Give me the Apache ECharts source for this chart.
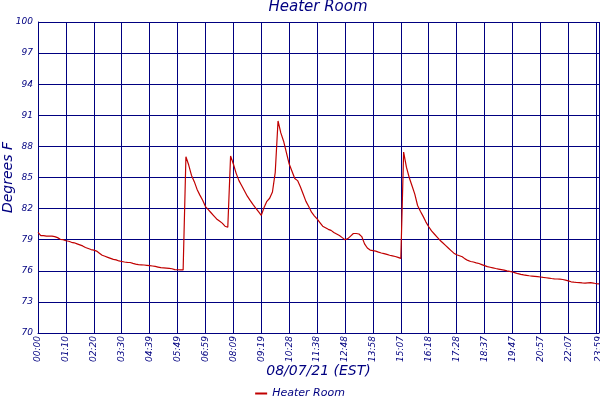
<!DOCTYPE html>
<html>
<head>
<meta charset="utf-8">
<script src="https://cdn.jsdelivr.net/npm/echarts@6/dist/echarts.min.js"></script>
<style>
  html, body { margin: 0; padding: 0; background: #fff; }
  #chart { width: 600px; height: 400px; }
</style>
</head>
<body>
<div id="chart"></div>
<script>
// tick labels on the time axis, one every 10 samples, plus the final one
var tickLabels = ['00:00','01:10','02:20','03:30','04:39','05:49','06:59','08:09','09:19','10:28',
    '11:38','12:48','13:58','15:07','16:18','17:28','18:37','19:47','20:57','22:07','23:16','23:59'];
var stepsPerTick = 10;

// temperature readings (deg F), 10 samples between tick labels
var temps = [
    79.7, 79.4, 79.4, 79.35, 79.35, 79.35, 79.3, 79.2, 79.04, 79.0,
    78.9, 78.85, 78.75, 78.7, 78.6, 78.5, 78.4, 78.25, 78.15, 78.05,
    78.0, 77.9, 77.7, 77.5, 77.4, 77.3, 77.2, 77.1, 77.05, 76.95,
    76.9, 76.85, 76.82, 76.8, 76.72, 76.65, 76.6, 76.58, 76.56, 76.53,
    76.5, 76.46, 76.42, 76.36, 76.3, 76.28, 76.26, 76.24, 76.2, 76.12,
    76.1, 76.08, 76.08, 87.0, 86.2, 85.2, 84.6, 83.85, 83.3, 82.8,
    82.2, 81.9, 81.6, 81.3, 81.0, 80.8, 80.6, 80.3, 80.2, 87.07,
    86.3, 85.4, 84.7, 84.2, 83.7, 83.2, 82.8, 82.4, 82.05, 81.7,
    81.35, 82.1, 82.7, 83.0, 83.6, 85.5, 90.45, 89.3, 88.5, 87.4,
    86.3, 85.6, 84.9, 84.7, 84.1, 83.4, 82.7, 82.2, 81.65, 81.3,
    81.0, 80.65, 80.3, 80.15, 80.0, 79.9, 79.7, 79.55, 79.4, 79.2,
    79.0, 79.1, 79.35, 79.6, 79.6, 79.55, 79.3, 78.6, 78.2, 78.0,
    77.95, 77.9, 77.8, 77.72, 77.65, 77.58, 77.5, 77.44, 77.38, 77.3,
    77.2, 87.45, 86.0, 85.0, 84.2, 83.4, 82.3, 81.75, 81.25, 80.7,
    80.25, 79.85, 79.55, 79.25, 78.95, 78.7, 78.45, 78.2, 77.95, 77.7,
    77.55, 77.45, 77.35, 77.15, 77.0, 76.9, 76.85, 76.77, 76.7, 76.6,
    76.5, 76.4, 76.34, 76.28, 76.22, 76.17, 76.12, 76.07, 76.0, 75.95,
    75.88, 75.8, 75.72, 75.65, 75.6, 75.56, 75.52, 75.49, 75.46, 75.43,
    75.4, 75.36, 75.33, 75.3, 75.26, 75.23, 75.21, 75.19, 75.16, 75.1,
    75.03, 74.94, 74.9, 74.87, 74.85, 74.83, 74.82, 74.84, 74.86, 74.82,
    74.75, 74.73
];

var seriesName = 'Heater Room';
var navy = '#000080';
var lastIdx = temps.length - 1;

var categories = [];
for (var i = 0; i < temps.length; i++) {
    categories.push(String(i));
}

var isTick = function (idx) {
    return idx % stepsPerTick === 0 || idx === lastIdx;
};

var chart = echarts.init(document.getElementById('chart'));
var option = {
    animation: false,
    backgroundColor: '#fff',
    title: {
        text: 'Heater Room',
        left: 318,
        textAlign: 'center',
        top: 0,
        padding: 0,
        textStyle: {
            color: navy,
            fontFamily: 'DejaVu Sans',
            fontStyle: 'italic',
            fontWeight: 'normal',
            fontSize: 15
        }
    },
    legend: {
        bottom: 1,
        left: 'center',
        padding: 0,
        icon: 'rect',
        itemWidth: 12,
        itemHeight: 2,
        itemGap: 5,
        textStyle: {
            color: navy,
            fontFamily: 'DejaVu Sans',
            fontStyle: 'italic',
            fontSize: 11
        },
        data: [seriesName]
    },
    grid: {
        left: 38,
        right: 1,
        top: 22,
        bottom: 67,
        containLabel: false,
        outerBoundsMode: 'none'
    },
    xAxis: {
        type: 'category',
        boundaryGap: false,
        data: categories,
        name: '08/07/21 (EST)',
        nameLocation: 'middle',
        nameGap: 31,
        nameMoveOverlap: false,
        nameTextStyle: {
            color: navy,
            fontFamily: 'DejaVu Sans',
            fontStyle: 'italic',
            fontSize: 14
        },
        axisLine: { lineStyle: { color: navy, width: 1 } },
        axisTick: { show: false },
        axisLabel: {
            rotate: 90,
            margin: 3,
            color: navy,
            fontFamily: 'DejaVu Sans',
            fontStyle: 'italic',
            fontSize: 9,
            hideOverlap: false,
            showMaxLabel: true,
            interval: function (idx) { return isTick(idx); },
            formatter: function (val, idx) {
                if (idx === lastIdx) return tickLabels[tickLabels.length - 1];
                return tickLabels[idx / stepsPerTick];
            }
        },
        splitLine: {
            show: true,
            interval: function (idx) { return isTick(idx); },
            lineStyle: { color: navy, width: 1 }
        }
    },
    yAxis: {
        type: 'value',
        min: 70,
        max: 100,
        interval: 3,
        name: 'Degrees F',
        nameLocation: 'middle',
        nameGap: 23,
        nameMoveOverlap: false,
        nameTextStyle: {
            color: navy,
            fontFamily: 'DejaVu Sans',
            fontStyle: 'italic',
            fontSize: 14
        },
        axisLine: { show: true, lineStyle: { color: navy, width: 1 } },
        axisTick: { show: false },
        axisLabel: {
            margin: 5,
            color: navy,
            fontFamily: 'DejaVu Sans',
            fontStyle: 'italic',
            fontSize: 9
        },
        splitLine: { lineStyle: { color: navy, width: 1 } }
    },
    series: [
        {
            name: seriesName,
            type: 'line',
            data: temps,
            showSymbol: false,
            symbol: 'none',
            color: '#c00000',
            lineStyle: { color: '#c00000', width: 1.2 }
        }
    ]
};
chart.setOption(option);
</script>
</body>
</html>
